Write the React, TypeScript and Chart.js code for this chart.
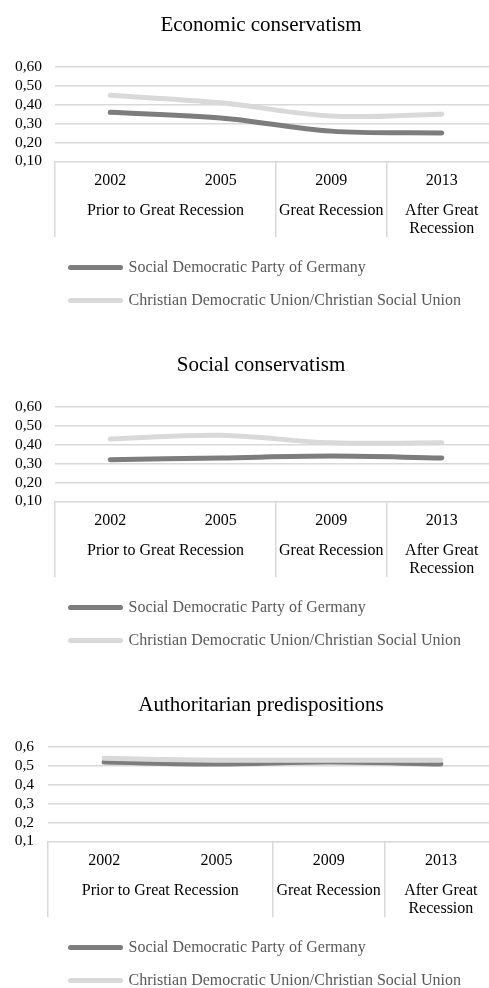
import React, { useEffect, useRef } from "react";
import { Chart, registerables } from "chart.js";

Chart.register(...registerables);

// Survey waves and the period each wave belongs to
const YEARS = ["2002", "2005", "2009", "2013"];
const PERIOD_LABELS: (string | string[])[] = [
  "Prior to Great Recession",
  "Great Recession",
  ["After Great", "Recession"],
];
// number of waves covered by each period, in order
const PERIOD_SPANS = [2, 1, 1];

const SERIES_NAMES = [
  "Social Democratic Party of Germany",
  "Christian Democratic Union/Christian Social Union",
];

const ECONOMIC_SPD = [0.36, 0.33, 0.26, 0.25];
const ECONOMIC_CDU = [0.45, 0.41, 0.34, 0.35];

const SOCIAL_SPD = [0.32, 0.33, 0.34, 0.33];
const SOCIAL_CDU = [0.43, 0.45, 0.41, 0.41];

const AUTHORITARIAN_SPD = [0.52, 0.51, 0.52, 0.51];
const AUTHORITARIAN_CDU = [0.54, 0.53, 0.53, 0.53];

const Y_MIN = 0.1;
const Y_MAX = 0.6;
const Y_STEP = 0.1;

const TITLES = [
  "Economic conservatism",
  "Social conservatism",
  "Authoritarian predispositions",
];

// period centres (in category units) and the category indices where a period starts
const periodCenters: number[] = [];
const periodStarts: number[] = [];
{
  let start = 0;
  PERIOD_SPANS.forEach((span) => {
    periodStarts.push(start);
    periodCenters.push(start + span / 2 - 0.5);
    start += span;
  });
}

const SERIF = "'Liberation Serif', 'Times New Roman', serif";
const SPD_COLOR = "#7d7d7d";
const CDU_COLOR = "#d9d9d9";
const GRID_COLOR = "#d9d9d9";
const LEGEND_TEXT = "#595959";

const CANVAS_W = 522;
const CANVAS_H = 340;
const LEGEND_LEFT = 53.5;

// keeps the legend block at the same horizontal offset in every panel
const legendOffset = {
  id: "legendOffset",
  afterLayout(chart: any) {
    if (chart.legend) chart.legend.left = LEGEND_LEFT;
  },
};

type PanelProps = {
  title: string;
  spd: number[];
  cdu: number[];
  decimals: number;
  axisWidth: number;
  labelGap: number;
};

function Panel({ title, spd, cdu, decimals, axisWidth, labelGap }: PanelProps) {
  const ref = useRef<HTMLCanvasElement>(null);

  useEffect(() => {
    const series = [
      { name: SERIES_NAMES[0], data: spd, color: SPD_COLOR, order: 1 },
      { name: SERIES_NAMES[1], data: cdu, color: CDU_COLOR, order: 0 },
    ];
    const chart = new Chart(ref.current as HTMLCanvasElement, {
      type: "line",
      data: {
        labels: YEARS,
        datasets: series.map((s) => ({
          label: s.name,
          data: s.data,
          borderColor: s.color,
          backgroundColor: s.color,
          pointBorderColor: s.color,
          pointBackgroundColor: s.color,
          borderWidth: 5,
          pointRadius: 0,
          pointHoverRadius: 0,
          tension: 0.35,
          borderCapStyle: "round",
          borderJoinStyle: "round",
          fill: false,
          order: s.order,
          xAxisID: "x",
          yAxisID: "y",
        })),
      },
      plugins: [legendOffset],
      options: {
        responsive: false,
        animation: false,
        events: [],
        layout: { padding: { left: 0, right: 0, top: 0, bottom: 21.5 } },
        plugins: {
          title: {
            display: true,
            text: title,
            color: "#000",
            font: { family: SERIF, size: 21, weight: "normal", lineHeight: 1.2 },
            padding: { top: 12.5, bottom: 29.3 },
          },
          legend: {
            display: true,
            position: "bottom",
            align: "start",
            fullSize: false,
            labels: {
              usePointStyle: true,
              pointStyle: "line",
              pointStyleWidth: 50,
              padding: 17,
              color: LEGEND_TEXT,
              font: { family: SERIF, size: 16 },
              generateLabels: (c: any) =>
                c.data.datasets.map((ds: any, i: number) => ({
                  text: ds.label,
                  fillStyle: ds.borderColor,
                  strokeStyle: ds.borderColor,
                  lineWidth: ds.borderWidth,
                  lineCap: "round",
                  pointStyle: "line",
                  hidden: false,
                  datasetIndex: i,
                  fontColor: LEGEND_TEXT,
                })),
            },
          },
          tooltip: { enabled: false },
        },
        scales: {
          x: {
            type: "category",
            position: "bottom",
            weight: 1,
            offset: true,
            border: { display: false },
            grid: {
              offset: true,
              drawOnChartArea: false,
              drawTicks: true,
              tickLength: 76,
              lineWidth: 1.5,
              // separators only where a period begins, plus the closing edge
              color: (ctx: any) =>
                ctx.index === undefined || periodStarts.includes(ctx.index)
                  ? GRID_COLOR
                  : "rgba(0,0,0,0)",
            },
            ticks: {
              padding: -66.4,
              color: "#000",
              font: { family: SERIF, size: 16, lineHeight: 1.2 },
              maxRotation: 0,
              minRotation: 0,
              autoSkip: false,
            },
            afterFit: (s: any) => {
              s.height = 36;
            },
          },
          period: {
            type: "linear",
            axis: "x",
            position: "bottom",
            weight: 2,
            min: -0.5,
            max: YEARS.length - 0.5,
            grid: { display: false, drawTicks: false },
            border: { display: false },
            afterBuildTicks: (s: any) => {
              s.ticks = periodCenters.map((v) => ({ value: v }));
            },
            ticks: {
              callback: (_v: any, i: number) => PERIOD_LABELS[i],
              padding: 4.2,
              color: "#000",
              font: { family: SERIF, size: 16, lineHeight: 1.15 },
              maxRotation: 0,
              minRotation: 0,
              autoSkip: false,
            },
            afterFit: (s: any) => {
              s.height = 45.2;
            },
          },
          y: {
            type: "linear",
            position: "left",
            min: Y_MIN,
            max: Y_MAX,
            border: { display: false },
            grid: { color: GRID_COLOR, lineWidth: 1.5, drawTicks: false },
            ticks: {
              stepSize: Y_STEP,
              autoSkip: false,
              padding: labelGap,
              color: "#000",
              font: { family: SERIF, size: 15.5 },
              callback: (v: any) => Number(v).toFixed(decimals).replace(".", ","),
            },
            afterFit: (s: any) => {
              s.width = axisWidth;
            },
          },
          // blank right margin so the chart area ends before the canvas edge
          rightMargin: {
            type: "linear",
            axis: "y",
            position: "right",
            display: true,
            grid: { display: false, drawTicks: false },
            border: { display: false },
            ticks: { display: false },
            afterFit: (s: any) => {
              s.width = 25;
            },
          },
        },
      } as any,
    });
    return () => chart.destroy();
  }, [title, spd, cdu, decimals, axisWidth, labelGap]);

  return (
    <canvas
      ref={ref}
      width={CANVAS_W}
      height={CANVAS_H}
      style={{ display: "block", width: CANVAS_W, height: CANVAS_H }}
    />
  );
}

export default function App() {
  return (
    <div
      style={{
        position: "fixed",
        left: 0,
        top: 0,
        width: 489,
        height: 988,
        overflow: "hidden",
        background: "#fff",
      }}
    >
      <Panel title={TITLES[0]} spd={ECONOMIC_SPD} cdu={ECONOMIC_CDU} decimals={2} axisWidth={55} labelGap={13} />
      <Panel title={TITLES[1]} spd={SOCIAL_SPD} cdu={SOCIAL_CDU} decimals={2} axisWidth={55} labelGap={13} />
      <Panel title={TITLES[2]} spd={AUTHORITARIAN_SPD} cdu={AUTHORITARIAN_CDU} decimals={1} axisWidth={48} labelGap={14} />
    </div>
  );
}
